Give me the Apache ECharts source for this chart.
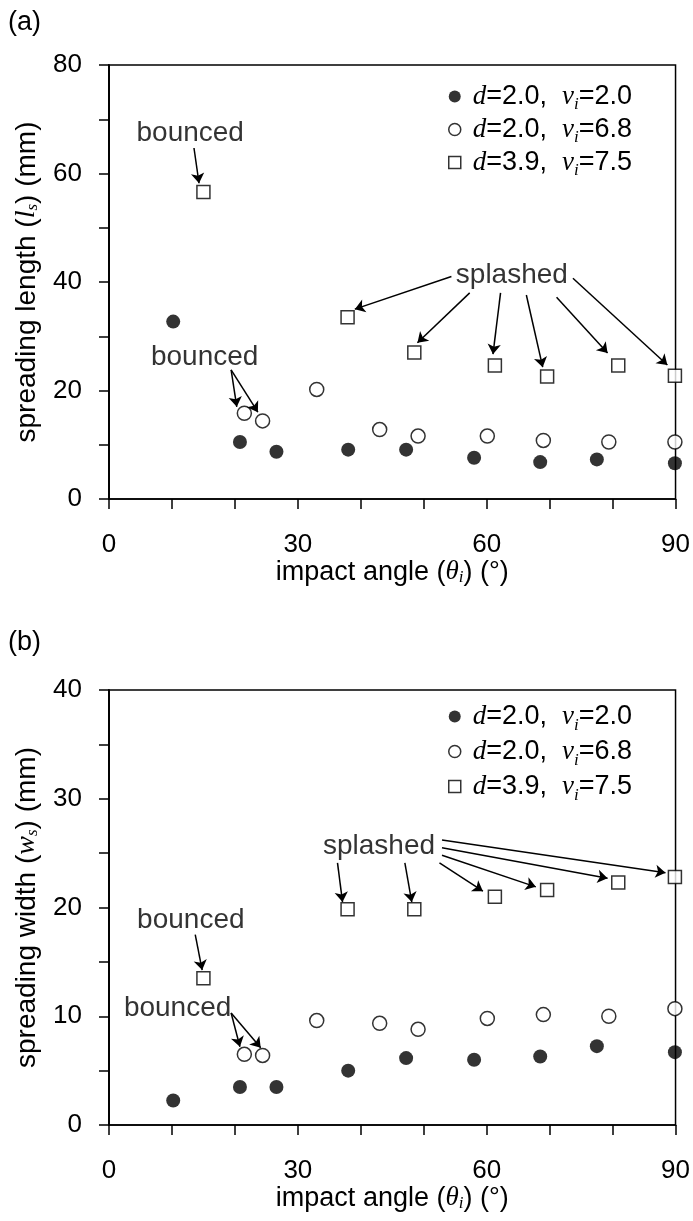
<!DOCTYPE html>
<html>
<head>
<meta charset="utf-8">
<script src="https://cdn.jsdelivr.net/npm/echarts@6/dist/echarts.min.js"></script>
<style>
  html, body { margin: 0; padding: 0; background: #fff; }
  #chart { width: 693px; height: 1221px; }
</style>
</head>
<body>
<div id="chart"></div>
<script>
const FONT = "'Liberation Sans', Arial, sans-serif";
const SERIF = "'Liberation Serif', 'Times New Roman', serif";

// impact angle (deg) of each run, per data set
const angleD20V20 = [10.2, 20.8, 26.6, 38.0, 47.2, 58.0, 68.5, 77.5, 89.9];
const angleD20V68 = [21.5, 24.4, 33.0, 43.0, 49.1, 60.1, 69.0, 79.4, 89.9];
const angleD39V75 = [15.0, 37.9, 48.5, 61.3, 69.6, 80.9, 89.9];

// (a) spreading length ls (mm)
const lengthD20V20 = [32.7, 10.5, 8.7, 9.1, 9.1, 7.6, 6.8, 7.3, 6.6];
const lengthD20V68 = [15.8, 14.4, 20.2, 12.8, 11.6, 11.6, 10.8, 10.5, 10.5];
const lengthD39V75 = [56.6, 33.5, 27.0, 24.6, 22.6, 24.6, 22.7];

// (b) spreading width ws (mm)
const widthD20V20 = [2.25, 3.5, 3.5, 5.0, 6.15, 6.0, 6.3, 7.25, 6.7];
const widthD20V68 = [6.5, 6.4, 9.6, 9.35, 8.8, 9.8, 10.15, 10.0, 10.7];
const widthD39V75 = [13.5, 19.85, 19.85, 21.0, 21.6, 22.3, 22.8];

const seriesNames = ['d=2.0, vi=2.0', 'd=2.0, vi=6.8', 'd=3.9, vi=7.5'];
const legendD = ['2.0', '2.0', '3.9'];
const legendV = ['2.0', '6.8', '7.5'];

const xTickLabels = [0, 30, 60, 90];
const yTickLabelsA = [0, 20, 40, 60, 80];
const yTickLabelsB = [0, 10, 20, 30, 40];

// annotations: [text, angle, value] of the text centre
const notesA = [['bounced', 12.9, 67.5], ['bounced', 15.2, 26.2], ['splashed', 64.0, 41.2]];
const notesB = [['bounced', 13.0, 18.85], ['bounced', 10.9, 10.75], ['splashed', 42.9, 25.6]];
// arrows: [x0, y0, x1, y1], head at (x1, y1)
const arrowsA = [
  [13.5, 64.7, 14.3, 58.2],
  [19.4, 23.8, 20.3, 17.0],
  [19.4, 23.8, 23.65, 16.0],
  [54.4, 41.0, 39.05, 35.0],
  [57.3, 38.0, 49.0, 28.8],
  [62.2, 38.0, 61.0, 26.7],
  [66.3, 37.6, 68.9, 24.3],
  [71.1, 37.2, 79.2, 26.9],
  [73.7, 40.7, 88.7, 24.7]
];
const arrowsB = [
  [13.7, 17.5, 14.8, 14.25],
  [19.4, 10.3, 20.8, 7.2],
  [19.4, 10.3, 24.1, 7.1],
  [36.3, 24.1, 37.1, 20.5],
  [47.0, 24.1, 48.1, 20.5],
  [52.5, 24.1, 59.4, 21.5],
  [52.9, 24.8, 67.8, 21.9],
  [52.9, 25.5, 79.2, 22.7],
  [52.9, 26.2, 88.4, 23.2]
];

const markerStyles = [
  { symbol: 'circle', symbolSize: 14, itemStyle: { color: '#000' } },
  { symbol: 'circle', symbolSize: 14, itemStyle: { color: '#fff', borderColor: '#000', borderWidth: 1.5 } },
  { symbol: 'rect', symbolSize: 13, itemStyle: { color: '#fff', borderColor: '#000', borderWidth: 1.5 } }
];

function richFor(size) {
  return {
    it: { fontFamily: SERIF, fontStyle: 'italic', fontSize: size },
    dd: { fontFamily: SERIF, fontStyle: 'italic', fontSize: size, padding: [0, 0, 0, 7] },
    sub: { fontFamily: SERIF, fontStyle: 'italic', fontSize: Math.round(size * 0.62), verticalAlign: 'bottom' }
  };
}

const black = { color: '#000', width: 1.5 };

function xAxisFor(gridIndex, nameGap) {
  return {
    gridIndex, type: 'value', min: 0, max: 90, interval: 10,
    axisLine: { show: true, onZero: false, lineStyle: black },
    axisTick: { show: true, length: 10, lineStyle: black },
    axisLabel: {
      margin: 33, fontSize: 26, fontFamily: FONT, color: '#000',
      formatter: v => xTickLabels.includes(v) ? String(v) : ''
    },
    splitLine: { show: false },
    name: 'impact angle ({it|θ}{sub|i}) (°)',
    nameLocation: 'middle', nameGap,
    nameTextStyle: { fontSize: 27, fontFamily: FONT, color: '#000', rich: richFor(27) }
  };
}

function yAxisFor(gridIndex, max, labels, name) {
  return {
    gridIndex, type: 'value', min: 0, max, interval: max / 8,
    axisLine: { show: true, onZero: false, lineStyle: black },
    axisTick: { show: true, length: 10, lineStyle: black },
    axisLabel: {
      margin: 27, fontSize: 26, fontFamily: FONT, color: '#000',
      formatter: v => labels.includes(v) ? String(v) : ''
    },
    splitLine: { show: false },
    name, nameLocation: 'middle', nameGap: 68,
    nameTextStyle: { fontSize: 28, fontFamily: FONT, color: '#000', rich: richFor(28) }
  };
}

// right-hand frame line drawn above the markers
function frameAxis(gridIndex, max) {
  return {
    gridIndex, type: 'value', position: 'right', min: 0, max, z: 5,
    axisLine: { show: true, lineStyle: black },
    axisTick: { show: false }, axisLabel: { show: false }, splitLine: { show: false }
  };
}

function dataSeries(name, axisIndex, xs, ys, k) {
  return {
    type: 'scatter', name,
    xAxisIndex: axisIndex, yAxisIndex: axisIndex * 2,
    symbol: markerStyles[k].symbol,
    symbolSize: markerStyles[k].symbolSize,
    itemStyle: markerStyles[k].itemStyle,
    data: xs.map((x, i) => [x, ys[i]]),
    z: 3
  };
}

function notesSeries(axisIndex, notes, arrows) {
  return {
    type: 'scatter', name: 'notes' + axisIndex,
    xAxisIndex: axisIndex, yAxisIndex: axisIndex * 2,
    symbolSize: 1, itemStyle: { color: 'rgba(0,0,0,0)' }, silent: true, z: 4,
    data: notes.map(n => ({ name: n[0], value: [n[1], n[2]] })),
    label: { show: true, position: 'inside', formatter: '{b}', fontSize: 28, fontFamily: FONT, color: '#000' },
    markLine: {
      silent: true, animation: false,
      symbol: ['none', 'arrow'], symbolSize: 10,
      lineStyle: { color: '#000', width: 1.5, type: 'solid' },
      label: { show: false },
      emphasis: { disabled: true },
      data: arrows.map(a => [{ coord: [a[0], a[1]] }, { coord: [a[2], a[3]] }])
    }
  };
}

function legendFor(top, rowHeight) {
  return {
    orient: 'vertical', left: 448, top, padding: 0, itemGap: 0,
    itemWidth: 12, itemHeight: 12, selectedMode: false,
    data: seriesNames.map((name, k) => ({
      name,
      icon: markerStyles[k].symbol,
      itemStyle: markerStyles[k].itemStyle
    })),
    formatter: name => {
      const i = seriesNames.indexOf(name);
      return '{dd|d}=' + legendD[i] + ',  {it|v}{sub|i}=' + legendV[i];
    },
    textStyle: { fontSize: 27, fontFamily: FONT, color: '#000', lineHeight: rowHeight, rich: richFor(27) }
  };
}

const chart = echarts.init(document.getElementById('chart'));

chart.setOption({
  animation: false,
  backgroundColor: '#fff',
  title: [
    { text: '(a)', left: 8, top: 9, padding: 0, textStyle: { fontSize: 27, fontWeight: 'normal', fontFamily: FONT, color: '#000' } },
    { text: '(b)', left: 8, top: 629, padding: 0, textStyle: { fontSize: 27, fontWeight: 'normal', fontFamily: FONT, color: '#000' } }
  ],
  grid: [
    { left: 109, top: 65, width: 567, height: 434, show: true, borderColor: '#000', borderWidth: 1.5, backgroundColor: 'transparent' },
    { left: 109, top: 690, width: 567, height: 435, show: true, borderColor: '#000', borderWidth: 1.5, backgroundColor: 'transparent' }
  ],
  legend: [legendFor(80, 33), legendFor(699, 35)],
  xAxis: [xAxisFor(0, 57), xAxisFor(1, 58)],
  yAxis: [
    yAxisFor(0, 80, yTickLabelsA, 'spreading length ({it|l}{sub|s}) (mm)'),
    frameAxis(0, 80),
    yAxisFor(1, 40, yTickLabelsB, 'spreading width ({it|w}{sub|s}) (mm)'),
    frameAxis(1, 40)
  ],
  series: [
    dataSeries(seriesNames[0], 0, angleD20V20, lengthD20V20, 0),
    dataSeries(seriesNames[1], 0, angleD20V68, lengthD20V68, 1),
    dataSeries(seriesNames[2], 0, angleD39V75, lengthD39V75, 2),
    notesSeries(0, notesA, arrowsA),
    dataSeries(seriesNames[0], 1, angleD20V20, widthD20V20, 0),
    dataSeries(seriesNames[1], 1, angleD20V68, widthD20V68, 1),
    dataSeries(seriesNames[2], 1, angleD39V75, widthD39V75, 2),
    notesSeries(1, notesB, arrowsB)
  ]
});
</script>
</body>
</html>
